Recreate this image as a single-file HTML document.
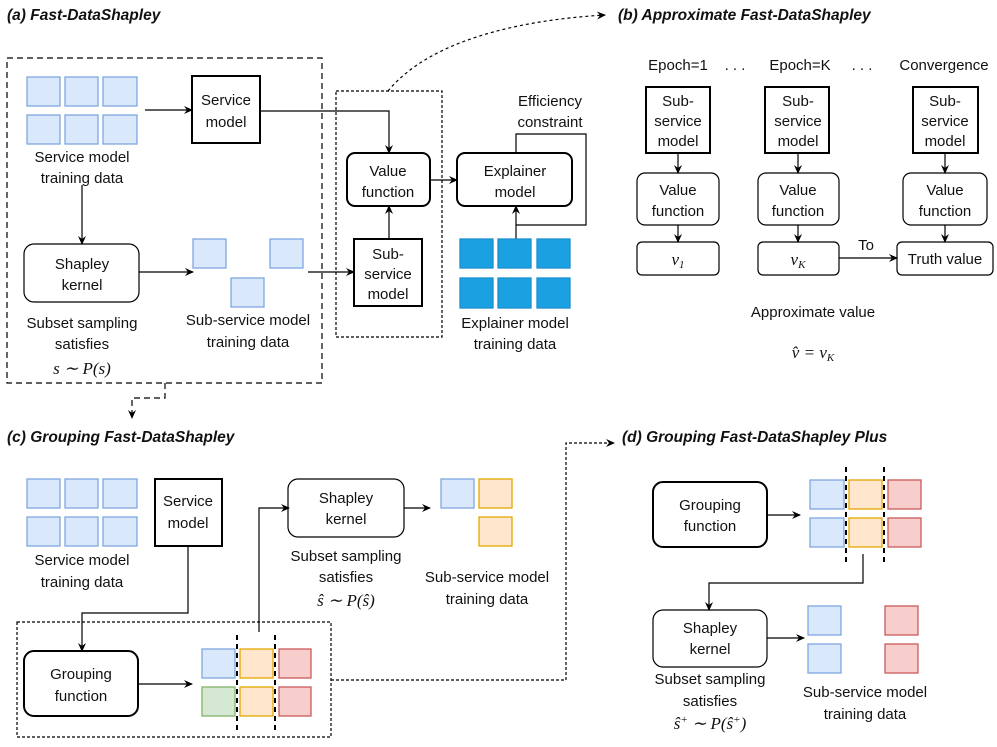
<!DOCTYPE html>
<html><head><meta charset="utf-8"><style>
html,body{margin:0;padding:0;background:#fff}
svg text{font-family:"Liberation Sans",sans-serif;font-size:15px;fill:#111}
.t{font-weight:bold;font-style:italic;font-size:15.5px}
.m{font-family:"Liberation Serif",serif;font-style:italic;font-size:17px}
.c{text-anchor:middle}
</style></head><body>
<svg width="997" height="742" viewBox="0 0 997 742" xmlns="http://www.w3.org/2000/svg">
<defs><marker id="a" markerWidth="10" markerHeight="10" refX="8" refY="5" orient="auto" markerUnits="userSpaceOnUse"><path d="M0,1 L9,5 L0,9 L3,5z" fill="#000"/></marker></defs>
<g fill="none" stroke="#000" stroke-width="1.2">
<!-- (a) -->
<rect x="7" y="58" width="315" height="325" stroke-dasharray="6,4"/>
<rect x="336" y="91" width="106" height="246" stroke-dasharray="3,2"/>
<path d="M388,91 C430,40 520,20 605,15" stroke-dasharray="3,3" marker-end="url(#a)"/>
<path d="M145,110 H192" marker-end="url(#a)"/>
<path d="M82,185 V244" marker-end="url(#a)"/>
<path d="M139,272 H193" marker-end="url(#a)"/>
<path d="M308,272 H354" marker-end="url(#a)"/>
<path d="M260,111 H389 V153" marker-end="url(#a)"/>
<path d="M389,239 V206" marker-end="url(#a)"/>
<path d="M430,180 H457" marker-end="url(#a)"/>
<path d="M516,153 V134 H586 V225 H516"/>
<path d="M516,239 V206" marker-end="url(#a)"/>
<rect x="192" y="76" width="68" height="67" stroke-width="2"/>
<rect x="24" y="244" width="115" height="58" rx="10"/>
<rect x="354" y="239" width="68" height="67" stroke-width="2"/>
<rect x="347" y="153" width="83" height="53" rx="8" stroke-width="2"/>
<rect x="457" y="153" width="115" height="53" rx="8" stroke-width="2"/>
<!-- (b) -->
<rect x="646" y="87" width="64" height="66" stroke-width="2"/>
<rect x="765" y="87" width="64" height="66" stroke-width="2"/>
<rect x="913" y="87" width="65" height="66" stroke-width="2"/>
<path d="M678,153 V173" marker-end="url(#a)"/>
<path d="M798,153 V173" marker-end="url(#a)"/>
<path d="M945,153 V173" marker-end="url(#a)"/>
<rect x="637" y="173" width="82" height="52" rx="8"/>
<rect x="758" y="173" width="81" height="52" rx="8"/>
<rect x="903" y="173" width="84" height="52" rx="8"/>
<path d="M678,225 V242" marker-end="url(#a)"/>
<path d="M798,225 V242" marker-end="url(#a)"/>
<path d="M945,225 V242" marker-end="url(#a)"/>
<rect x="637" y="242" width="82" height="33" rx="5"/>
<rect x="758" y="242" width="81" height="33" rx="5"/>
<rect x="897" y="242" width="96" height="33" rx="5"/>
<path d="M839,258 H897" marker-end="url(#a)"/>
<!-- (c) -->
<path d="M165,383 V398 H132 V418" stroke-dasharray="6,4" marker-end="url(#a)"/>
<rect x="155" y="479" width="67" height="67" stroke-width="2"/>
<path d="M188,546 V613 H82 V651" marker-end="url(#a)"/>
<rect x="17" y="622" width="314" height="115" stroke-dasharray="3,2"/>
<rect x="24" y="651" width="114" height="65" rx="10" stroke-width="2"/>
<path d="M138,684 H192" marker-end="url(#a)"/>
<path d="M259,632 V508 H289" marker-end="url(#a)"/>
<rect x="288" y="479" width="116" height="58" rx="10"/>
<path d="M404,508 H430" marker-end="url(#a)"/>
<path d="M331,680 H566 V443 H614" stroke-dasharray="3,2" marker-end="url(#a)"/>
<!-- (d) -->
<rect x="653" y="482" width="114" height="65" rx="10" stroke-width="2"/>
<path d="M767,515 H800" marker-end="url(#a)"/>
<path d="M863,554 V583 H709 V610" marker-end="url(#a)"/>
<rect x="653" y="610" width="114" height="57" rx="10"/>
<path d="M767,638 H804" marker-end="url(#a)"/>
</g>
<!-- squares -->
<g stroke-width="1.3">
<g fill="#dae8fc" stroke="#7ea6e0">
<rect x="27" y="77" width="33" height="29"/><rect x="65" y="77" width="33" height="29"/><rect x="103" y="77" width="34" height="29"/>
<rect x="27" y="115" width="33" height="29"/><rect x="65" y="115" width="33" height="29"/><rect x="103" y="115" width="34" height="29"/>
<rect x="193" y="239" width="33" height="29"/><rect x="270" y="239" width="33" height="29"/><rect x="231" y="278" width="33" height="29"/>
<rect x="27" y="479" width="33" height="29"/><rect x="65" y="479" width="33" height="29"/><rect x="103" y="479" width="34" height="29"/>
<rect x="27" y="517" width="33" height="29"/><rect x="65" y="517" width="33" height="29"/><rect x="103" y="517" width="34" height="29"/>
<rect x="202" y="649" width="33" height="29"/>
<rect x="441" y="479" width="33" height="29"/>
<rect x="810" y="480" width="34" height="29"/><rect x="810" y="518" width="34" height="29"/>
<rect x="808" y="606" width="33" height="29"/><rect x="808" y="644" width="33" height="29"/>
</g>
<g fill="#1ba1e2" stroke="#1a8fd0">
<rect x="460" y="239" width="33" height="29"/><rect x="498" y="239" width="33" height="29"/><rect x="537" y="239" width="33" height="29"/>
<rect x="460" y="278" width="33" height="30"/><rect x="498" y="278" width="33" height="30"/><rect x="537" y="278" width="33" height="30"/>
</g>
<g fill="#ffe6cc" stroke="#e3a700">
<rect x="240" y="649" width="33" height="29"/><rect x="240" y="687" width="33" height="29"/>
<rect x="479" y="479" width="33" height="29"/><rect x="479" y="517" width="33" height="29"/>
<rect x="849" y="480" width="33" height="29"/><rect x="849" y="518" width="33" height="29"/>
</g>
<g fill="#f8cecc" stroke="#c95b5b">
<rect x="279" y="649" width="32" height="29"/><rect x="279" y="687" width="32" height="29"/>
<rect x="888" y="480" width="33" height="29"/><rect x="888" y="518" width="33" height="29"/>
<rect x="885" y="606" width="33" height="29"/><rect x="885" y="644" width="33" height="29"/>
</g>
<rect x="202" y="687" width="33" height="29" fill="#d5e8d4" stroke="#82b366"/>
</g>
<g stroke="#000" stroke-width="2" stroke-dasharray="5,4">
<path d="M237,635 V732"/><path d="M275,635 V732"/>
<path d="M846,467 V563"/><path d="M884,467 V563"/>
</g>
<!-- text -->
<text x="7" y="20" class="t">(a) Fast-DataShapley</text>
<text x="618" y="20" class="t">(b) Approximate Fast-DataShapley</text>
<text x="7" y="442" class="t">(c) Grouping Fast-DataShapley</text>
<text x="622" y="442" class="t">(d) Grouping Fast-DataShapley Plus</text>
<g class="c">
<text x="226" y="105" class="c">Service</text><text x="226" y="127" class="c">model</text>
<text x="82" y="162" class="c">Service model</text><text x="82" y="183" class="c">training data</text>
<text x="82" y="269" class="c">Shapley</text><text x="82" y="290" class="c">kernel</text>
<text x="82" y="328" class="c">Subset sampling</text><text x="82" y="349" class="c">satisfies</text>
<text x="82" y="374" class="c m">s ∼ P(s)</text>
<text x="248" y="325" class="c">Sub-service model</text><text x="248" y="347" class="c">training data</text>
<text x="388" y="259" class="c">Sub-</text><text x="388" y="279" class="c">service</text><text x="388" y="299" class="c">model</text>
<text x="388" y="176" class="c">Value</text><text x="388" y="197" class="c">function</text>
<text x="515" y="176" class="c">Explainer</text><text x="515" y="197" class="c">model</text>
<text x="550" y="106" class="c">Efficiency</text><text x="550" y="127" class="c">constraint</text>
<text x="515" y="328" class="c">Explainer model</text><text x="515" y="349" class="c">training data</text>
<text x="678" y="70" class="c">Epoch=1</text><text x="735" y="70" class="c">. . .</text>
<text x="800" y="70" class="c">Epoch=K</text><text x="862" y="70" class="c">. . .</text>
<text x="944" y="70" class="c">Convergence</text>
<text x="678" y="106" class="c">Sub-</text><text x="678" y="126" class="c">service</text><text x="678" y="146" class="c">model</text>
<text x="798" y="106" class="c">Sub-</text><text x="798" y="126" class="c">service</text><text x="798" y="146" class="c">model</text>
<text x="945" y="106" class="c">Sub-</text><text x="945" y="126" class="c">service</text><text x="945" y="146" class="c">model</text>
<text x="678" y="195" class="c">Value</text><text x="678" y="216" class="c">function</text>
<text x="798" y="195" class="c">Value</text><text x="798" y="216" class="c">function</text>
<text x="945" y="195" class="c">Value</text><text x="945" y="216" class="c">function</text>
<text x="678" y="265" class="c m">v<tspan font-size="11" dy="3">1</tspan></text>
<text x="798" y="265" class="c m">v<tspan font-size="11" dy="3">K</tspan></text>
<text x="945" y="264" class="c">Truth value</text>
<text x="866" y="250" class="c">To</text>
<text x="813" y="317" class="c">Approximate value</text>
<text x="813" y="358" class="c m">v̂ = v<tspan font-size="11" dy="3">K</tspan></text>
<text x="188" y="506" class="c">Service</text><text x="188" y="528" class="c">model</text>
<text x="82" y="565" class="c">Service model</text><text x="82" y="587" class="c">training data</text>
<text x="81" y="679" class="c">Grouping</text><text x="81" y="701" class="c">function</text>
<text x="346" y="503" class="c">Shapley</text><text x="346" y="524" class="c">kernel</text>
<text x="346" y="561" class="c">Subset sampling</text><text x="346" y="582" class="c">satisfies</text>
<text x="346" y="606" class="c m">ŝ ∼ P(ŝ)</text>
<text x="487" y="582" class="c">Sub-service model</text><text x="487" y="604" class="c">training data</text>
<text x="710" y="510" class="c">Grouping</text><text x="710" y="531" class="c">function</text>
<text x="710" y="633" class="c">Shapley</text><text x="710" y="654" class="c">kernel</text>
<text x="710" y="684" class="c">Subset sampling</text><text x="710" y="706" class="c">satisfies</text>
<text x="710" y="729" class="c m">ŝ<tspan font-size="11" dy="-6">+</tspan><tspan dy="6"> ∼ P(ŝ</tspan><tspan font-size="11" dy="-6">+</tspan><tspan dy="6">)</tspan></text>
<text x="865" y="697" class="c">Sub-service model</text><text x="865" y="719" class="c">training data</text>
</g>
</svg>
</body></html>
